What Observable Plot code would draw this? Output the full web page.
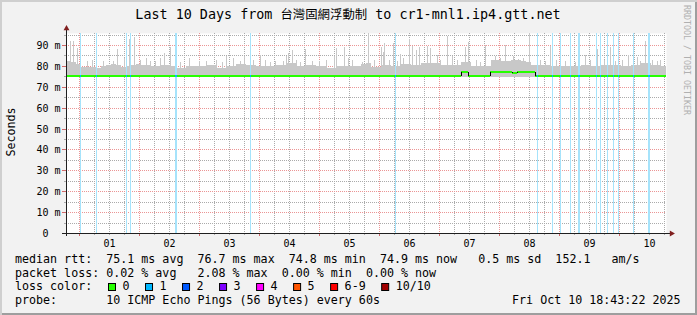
<!DOCTYPE html>
<html><head><meta charset="utf-8">
<script src="https://cdn.jsdelivr.net/npm/d3@7"></script>
<script src="https://cdn.jsdelivr.net/npm/@observablehq/plot@0.6"></script>
<style>
html,body{margin:0;padding:0;background:#f2f2f2;}
#wrap{position:relative;width:697px;height:315px;background:#f2f2f2;box-shadow:inset 2px 2px 0 #cfcfcf, inset -2px -2px 0 #9e9e9e;overflow:hidden}
#wrap svg{position:absolute;left:0;top:0}
</style></head><body><div id="wrap"></div>
<script>
// ---- data (hours relative to 2025-10-01 00:00) ----
const startHour = -5.2772;   // Sep 30 18:43:22
const endHour = 234.7228;    // Oct 10 18:43:22
const yMax = 95.74;
const dayLabels = ["01","02","03","04","05","06","07","08","09","10"];
const yTickValues = [0,10,20,30,40,50,60,70,80,90];
const yMinorValues = [5,15,25,35,45,55,65,75,85,95];
const smokeFloor = 74.8;
const smokeBinHours = 2;
const smokeTop = [
 82.3,81.8,80.8,79.4,79.3,79.4,79.0,79.8,80.3,80.8,80.3,79.4,79.8,80.3,80.8,80.6,80.3,79.8,79.8,80.3,
 80.3,79.8,79.0,79.0,79.8,79.8,79.8,79.8,80.3,80.3,78.8,79.0,79.8,79.8,80.8,80.8,80.5,80.5,79.8,79.8,
 80.1,80.1,80.4,80.4,81.2,81.2,79.8,79.8,80.3,80.3,79.8,79.8,79.0,79.0,80.1,80.1,79.8,79.8,80.1,80.8,
 81.3,79.4,79.4,80.3,80.3,80.1,80.1,80.8,80.8,80.3,80.3,81.2,81.2,81.2,81.2,80.3,80.3,80.3,80.3,82.0,
 81.8,80.1,80.1,79.8,79.8,82.7,82.7,82.3,82.3,82.7,82.7,82.3,81.8,80.5,80.5,80.5,80.5,80.1,80.1,79.8,
 79.8,80.1,80.1,80.4,80.4,80.1,80.1,80.4,80.4,80.4,80.4,79.8,79.8,80.4,80.4,81.2,81.2,80.6,80.6,80.1
];
const spikeHour = [
 -3.7,-2.5,-0.8,3.2,5.1,9.6,13.4,15.2,18.0,19.9,21.9,24.3,26.7,28.3,30.3,32.3,34.0,36.4,40.3,44.0,48.0,50.7,
 54.7,57.1,58.7,61.6,64.3,66.0,69.6,72.4,74.3,76.3,78.3,81.4,82.9,83.6,85.0,86.7,88.3,90.3,93.0,96.0,98.7,101.9,102.8,
 106.1,107.5,109.1,113.0,115.6,117.9,120.6,121.4,122.1,124.0,125.4,127.2,128.3,129.6,132.1,133.0,134.6,136.1,
 139.0,140.3,143.2,144.3,147.1,149.0,151.1,154.5,155.6,158.9,160.5,162.5,166.3,168.3,170.3,173.6,175.5,177.6,180.1,
 184.3,186.3,188.3,190.7,194.3,198.3,202.3,204.3,207.3,209.9,212.3,214.3,217.1,219.6,223.0,224.3,226.3,229.1,231.0,232.3
];
const spikeMs = [
 92,92,88.5,82.5,83,82.5,82.5,88,84,92.8,94,83,84,82.5,82.5,84,86,89,82,84,82.5,82.5,
 83,82,84.5,84,82.5,84.7,83,85.3,83,82,82.5,82.5,84.5,86,87.4,83,82,88,82.5,82.5,83,84.5,88.5,
 89,84,83,82,95.7,83,89,86.5,91,83,91,82.5,85.5,83.8,92.8,89.5,87.7,89.2,
 89.5,88.5,85,83,94.2,84.5,83,89,91.3,83,82,90,84.5,84,90.2,84.5,83.5,84,95.7,
 83,82.5,89.4,83,82.5,82,85.3,83,88.3,83,89,82.5,83,85,84.3,82.5,91.8,83,82.3,83
];
const lossHour = [0.32,6.72,18.72,20.32,38.4,38.8,68.32,126.32,183.12,189.12,192.4,196.32,199.6,200.0,
 206.72,208.4,211.2,213.52,215.52,221.52,227.6,228.0];
const medianStartHour = [startHour,152.9,155.6,164.3,173.0,175.0,182.3];
const medianMs = [75.1,77.0,75.1,77.1,76.7,77.1,75.1];
const lossColorLabels = ["0","1","2","3","4","5","6-9","10/10"];
const lossColors = ["#26ff00","#00b8ff","#0059ff","#7e00ff","#ff00ff","#ff5500","#ff0000","#a10000"];
const legendRows = [
 "median rtt:  75.1 ms avg  76.7 ms max  74.8 ms min  74.9 ms now   0.5 ms sd  152.1   am/s",
 "packet loss: 0.02 % avg   2.08 % max  0.00 % min  0.00 % now",
 "loss color:",
 "probe:       10 ICMP Echo Pings (56 Bytes) every 60s"
];
const stampText = "Fri Oct 10 18:43:22 2025";
const titleParts = ["Last 10 Days from ", "台灣固網浮動制", " to cr1-mnl1.ip4.gtt.net"];

// ---- derived ----
const smoke = smokeTop.map((v,i)=>({x1:startHour+i*smokeBinHours, x2:startHour+(i+1)*smokeBinHours, v}));
const spikes = spikeHour.map((h,i)=>({h, v:spikeMs[i]}));
const medSegs = medianMs.map((v,i)=>({x1:medianStartHour[i], x2: i+1<medianStartHour.length? medianStartHour[i+1]: endHour, v}));
const medSteps = medianMs.slice(1).map((v,i)=>({h:medianStartHour[i+1], a:medianMs[i], b:v}));
const medAt = h => { let v = medianMs[0]; medianStartHour.forEach((s,i)=>{ if (h>=s) v = medianMs[i]; }); return v; };
const majorX = d3.range(0, endHour, 24);
const minorX = d3.range(6, endHour, 6).filter(h => h % 24 !== 0);
const mono = "DejaVu Sans Mono, monospace";
const pxPerMs = 200 / yMax;

const chart = Plot.plot({
  width: 697, height: 315,
  marginTop: 33, marginBottom: 82, marginLeft: 66, marginRight: 31,
  style: {background: "transparent", overflow: "visible"},
  x: {type: "linear", domain: [startHour, endHour], axis: null, round: true},
  y: {domain: [0, yMax], axis: null, round: true},
  marks: [
    Plot.frame({fill: "white", stroke: "none"}),
    Plot.ruleY(yMinorValues, {stroke: "#ababab", strokeDasharray: "1,1"}),
    Plot.ruleX(minorX, {stroke: "#ababab", strokeDasharray: "1,1"}),
    Plot.ruleY(yTickValues.filter(d=>d>0), {stroke: "#eb9595", strokeDasharray: "1,1"}),
    Plot.ruleX(majorX, {stroke: "#eb9595", strokeDasharray: "1,1"}),
    Plot.rectY(smoke, {x1: "x1", x2: "x2", y1: smokeFloor, y2: "v", fill: "#c8c8c8", inset: 0}),
    Plot.ruleX(spikes, {x: "h", y1: smokeFloor, y2: d => Math.min(d.v, yMax), stroke: "#c8c8c8"}),
    Plot.ruleX(lossHour, {stroke: "#a6e3fb"}),
    Plot.ruleY(medSegs, {x1: "x1", x2: "x2", y: "v", stroke: "#26ff00", strokeWidth: 2, dy: -0.5}),
    Plot.ruleX(medSteps, {x: "h", y1: "a", y2: "b", stroke: "#000", strokeWidth: 1}),
    Plot.ruleX(lossHour, {y1: h => medAt(h) - 0.5, y2: h => medAt(h) + 0.5, stroke: "#00b8ff"}),
    // axes
    Plot.ruleY(yMinorValues, {x1: startHour - 0.8, x2: startHour, stroke: "#ababab"}),
    Plot.ruleY(yTickValues.filter(d=>d>0), {x1: startHour - 1.6, x2: startHour, stroke: "#d06a6a"}),
    Plot.ruleX(minorX, {y1: 0, y2: -2 / pxPerMs, stroke: "#ababab"}),
    Plot.ruleX(majorX, {y1: 0, y2: -3 / pxPerMs, stroke: "#d06a6a"}),
    Plot.ruleY([0], {x1: startHour - 1.6, x2: endHour + 2.4, stroke: "#1f1f1f"}),
    Plot.ruleX([startHour], {y1: -3 / pxPerMs, y2: yMax + 2, stroke: "#1f1f1f"}),
    Plot.dot([0], {x: startHour, y: yMax + 2.6, symbol: "triangle", r: 2.2, fill: "#801f1f", stroke: "none"}),
    Plot.dot([0], {x: endHour + 2.0, y: 0, symbol: "triangle", r: 2.2, rotate: 90, fill: "#801f1f", stroke: "none"}),
    Plot.text(yTickValues, {x: startHour, y: d=>d, dx: -6, textAnchor: "end", fontFamily: mono, fontSize: 10,
      text: d => d === 0 ? "0\u00a0\u00a0" : d + "\u00a0m", fill: "#000"}),
    Plot.text(dayLabels, {x: (d,i) => 12 + 24*i, y: 0, dy: 10, fontFamily: mono, fontSize: 10, text: d=>d, fill: "#000"})
  ]
});
document.getElementById("wrap").appendChild(chart);

const svg = d3.select(chart);
function txt(x, y, s, o = {}) {
  const t = svg.append("text").attr("x", x).attr("y", y)
    .attr("font-family", o.family || mono).attr("font-size", o.size || 11.66)
    .attr("fill", o.fill || "#000").attr("text-anchor", o.anchor || "start")
    .attr("xml:space", "preserve").style("white-space", "pre").text(s);
  if (o.transform) t.attr("transform", o.transform);
  return t;
}
// title
const title = svg.append("text").attr("x", 348).attr("y", 19).attr("text-anchor", "middle")
  .attr("font-family", mono + ", 'Noto Sans CJK TC'").attr("font-size", 13.4).attr("fill", "#000")
  .attr("xml:space", "preserve").style("white-space", "pre");
title.append("tspan").text(titleParts[0]);
title.append("tspan").attr("font-family", "'Noto Sans CJK TC'").attr("font-size", 12.4).text(titleParts[1]);
title.append("tspan").text(titleParts[2]);
// y label
txt(0, 0, "Seconds", {anchor: "middle", transform: "translate(14.5,132) rotate(-90)"});
// watermark
txt(0, 0, "RRDTOOL / TOBI OETIKER", {size: 8.3, fill: "#b0b0b0", transform: "translate(684,5) rotate(90)"});
// legend
const rowY = [263, 276.7, 290.3, 304];
legendRows.forEach((s, i) => txt(15, rowY[i], s));
txt(680.5, rowY[3], stampText, {anchor: "end"});
let lx = 108;
lossColorLabels.forEach((lab, i) => {
  svg.append("rect").attr("x", lx + 0.5).attr("y", 283.5).attr("width", 7).attr("height", 7)
    .attr("fill", lossColors[i]).attr("stroke", "#000").attr("stroke-width", 1);
  txt(lx + 14.5, rowY[2], lab);
  lx = lx + 15 + lab.length * 7.02 + 15;
});
</script></body></html>
